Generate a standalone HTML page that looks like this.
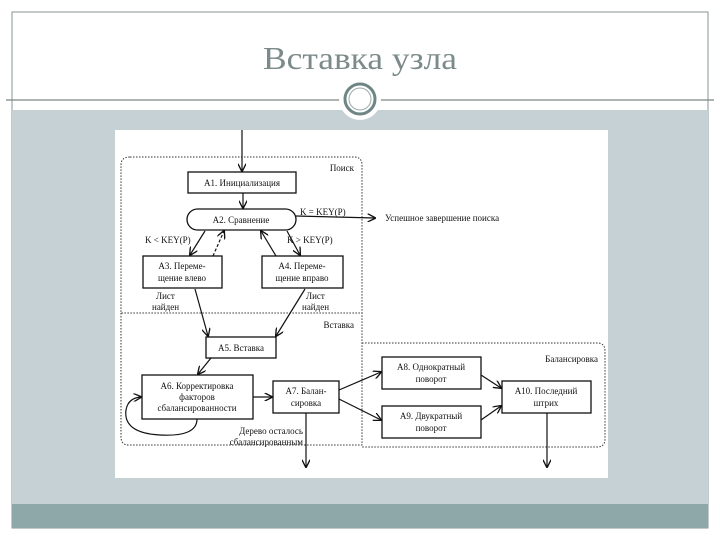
<!DOCTYPE html>
<html><head><meta charset="utf-8"><style>
html,body{margin:0;padding:0;background:#fff;width:720px;height:540px;overflow:hidden}
</style></head><body>
<svg width="720" height="540" viewBox="0 0 720 540" xmlns="http://www.w3.org/2000/svg" font-family="Liberation Serif, serif">
<defs>
<marker id="a" viewBox="0 0 10 10" refX="9" refY="5" markerWidth="7" markerHeight="7" orient="auto-start-reverse">
<path d="M0,0 L10,5 L0,10" fill="none" stroke="#111" stroke-width="1.6"/></marker>
</defs>
<rect x="12" y="12" width="696" height="516" fill="none" stroke="#8a9595" stroke-width="1"/>
<rect x="12" y="110" width="696" height="394" fill="#c6d1d6"/>
<rect x="12" y="504" width="696" height="24" fill="#8ea8a9"/>
<line x1="6" y1="100" x2="714" y2="100" stroke="#7a8888" stroke-width="1.2"/>
<text x="263" y="69" textLength="194" lengthAdjust="spacingAndGlyphs" font-size="32" fill="#7c8a8a">Вставка узла</text>
<circle cx="360" cy="99" r="21" fill="#fff"/>
<circle cx="360" cy="99" r="15" fill="#fff" stroke="#6f8585" stroke-width="3"/>
<circle cx="360" cy="99" r="11" fill="none" stroke="#9aaaaa" stroke-width="1"/>
<rect x="115" y="130" width="493" height="348" fill="#fff"/>
<g fill="none" stroke="#333" stroke-width="1" stroke-dasharray="1.5,1.5">
<path d="M130,157 H354 Q362,157 362,165 V313 H121 V165 Q121,157 130,157 Z"/>
<path d="M121,313 V437 Q121,445 129,445 H362 V313"/>
<path d="M362,343 H597 Q605,343 605,351 V439 Q605,447 597,447 H362"/>
</g>
<g stroke="#111" stroke-width="1.3" fill="#fff">
<rect x="188" y="172" width="108" height="21"/>
<rect x="187" y="209" width="109" height="21" rx="10.5"/>
<rect x="143" y="256" width="79" height="32"/>
<rect x="262" y="256" width="81" height="32"/>
<rect x="206" y="337" width="70" height="21"/>
<rect x="142" y="375" width="111" height="44"/>
<rect x="273" y="381" width="66" height="32"/>
<rect x="382" y="357" width="99" height="32"/>
<rect x="382" y="406" width="99" height="32"/>
<rect x="502" y="381" width="89" height="32"/>
</g>
<g stroke="#111" stroke-width="1.2" fill="none" marker-end="url(#a)">
<line x1="242" y1="130" x2="242" y2="171"/>
<line x1="243" y1="193" x2="243" y2="208"/>
<line x1="296" y1="216" x2="375" y2="218"/>
<line x1="205" y1="231" x2="190" y2="255"/>
<line x1="213" y1="256" x2="224" y2="231" stroke-dasharray="3,2"/>
<line x1="287" y1="231" x2="300" y2="255"/>
<line x1="276" y1="256" x2="261" y2="231"/>
<line x1="195" y1="289" x2="208" y2="336"/>
<line x1="305" y1="289" x2="276" y2="336"/>
<line x1="211" y1="358" x2="198" y2="374"/>
<line x1="253" y1="397" x2="272" y2="397"/>
<path d="M197,419 Q197,437 160,435 Q123,433 126,410 Q128,398 141,397"/>
<line x1="306" y1="413" x2="306" y2="467"/>
<line x1="339" y1="390" x2="381" y2="372"/>
<line x1="339" y1="399" x2="381" y2="420"/>
<line x1="481" y1="375" x2="501" y2="388"/>
<line x1="481" y1="420" x2="501" y2="406"/>
<line x1="547" y1="413" x2="547" y2="467"/>
</g>
<g font-size="9" fill="#111">
<text x="242" y="186" text-anchor="middle">A1. Инициализация</text>
<text x="241" y="223" text-anchor="middle">A2. Сравнение</text>
<text x="182" y="269" text-anchor="middle">A3. Переме-</text>
<text x="182" y="281" text-anchor="middle">щение влево</text>
<text x="302" y="269" text-anchor="middle">A4. Переме-</text>
<text x="302" y="281" text-anchor="middle">щение вправо</text>
<text x="241" y="351" text-anchor="middle">A5. Вставка</text>
<text x="197" y="389" text-anchor="middle">A6. Корректировка</text>
<text x="197" y="400" text-anchor="middle">факторов</text>
<text x="197" y="411" text-anchor="middle">сбалансированности</text>
<text x="306" y="394" text-anchor="middle">A7. Балан-</text>
<text x="306" y="406" text-anchor="middle">сировка</text>
<text x="431" y="370" text-anchor="middle">A8. Однократный</text>
<text x="431" y="382" text-anchor="middle">поворот</text>
<text x="431" y="419" text-anchor="middle">A9. Двукратный</text>
<text x="431" y="431" text-anchor="middle">поворот</text>
<text x="546" y="394" text-anchor="middle">A10. Последний</text>
<text x="546" y="406" text-anchor="middle">штрих</text>
<text x="354" y="171" text-anchor="end">Поиск</text>
<text x="354" y="328" text-anchor="end">Вставка</text>
<text x="598" y="362" text-anchor="end">Балансировка</text>
<text x="300" y="215">K = KEY(P)</text>
<text x="385" y="221">Успешное завершение поиска</text>
<text x="145" y="243">K &lt; KEY(P)</text>
<text x="287" y="243">K &gt; KEY(P)</text>
<text x="156" y="299">Лист</text>
<text x="152" y="310">найден</text>
<text x="306" y="299">Лист</text>
<text x="302" y="310">найден</text>
<text x="303" y="434" text-anchor="end">Дерево осталось</text>
<text x="303" y="445" text-anchor="end">сбалансированным</text>
</g>
</svg>
</body></html>
